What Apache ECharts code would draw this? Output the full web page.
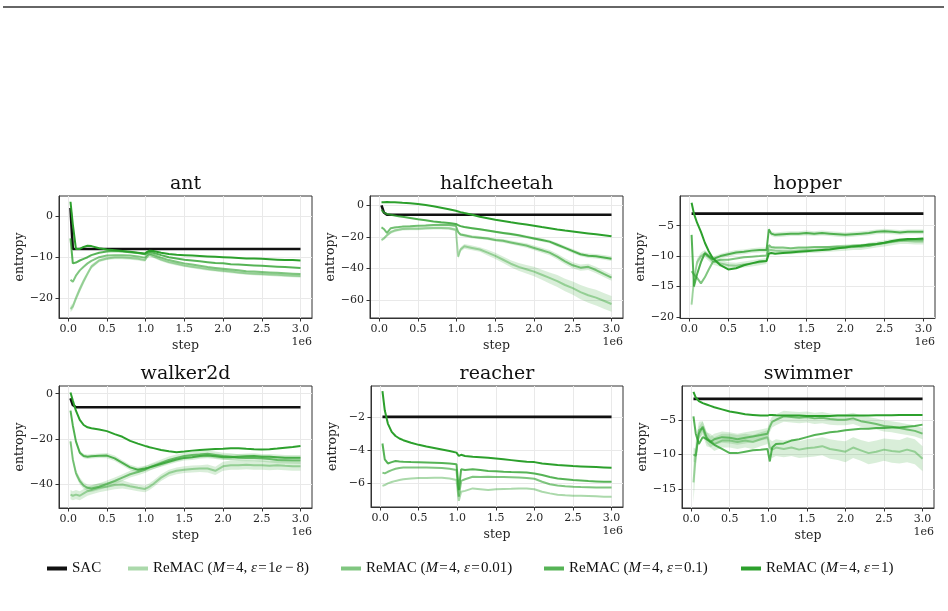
<!DOCTYPE html>
<html>
<head>
<meta charset="utf-8">
<script src="https://cdn.jsdelivr.net/npm/echarts@6/dist/echarts.min.js"></script>
<style>
  html, body { margin: 0; padding: 0; background: #fff; }
  #chart { width: 948px; height: 611px; }
</style>
</head>
<body>
<div id="chart"></div>
<script>
// training steps, in units of 1e6
const steps = [0.03, 0.06, 0.1, 0.15, 0.2, 0.25, 0.3, 0.4, 0.5, 0.6, 0.7, 0.8, 0.9, 0.99, 1.02, 1.05, 1.1, 1.2, 1.3, 1.4,
  1.5, 1.6, 1.7, 1.8, 1.9, 2.0, 2.1, 2.2, 2.3, 2.4, 2.5, 2.6, 2.7, 2.8, 2.9, 3.0];
const xTicks = [0, 0.5, 1, 1.5, 2, 2.5, 3];

const methods = ['SAC', 'ReMAC (M=4, ε=1e−8)', 'ReMAC (M=4, ε=0.01)', 'ReMAC (M=4, ε=0.1)', 'ReMAC (M=4, ε=1)'];
const legendLabels = [
  'SAC',
  '{n|ReMAC (}{i|M}{n|\u200a=\u200a4, }{i|ε}{n|\u200a=\u200a1}{i|e}{n|\u2009−\u20098)}',
  '{n|ReMAC (}{i|M}{n|\u200a=\u200a4, }{i|ε}{n|\u200a=\u200a0.01)}',
  '{n|ReMAC (}{i|M}{n|\u200a=\u200a4, }{i|ε}{n|\u200a=\u200a0.1)}',
  '{n|ReMAC (}{i|M}{n|\u200a=\u200a4, }{i|ε}{n|\u200a=\u200a1)}'
];

// ---- ant
const antSAC = [2, -8, -8, -8, -8, -8, -8, -8, -8, -8, -8, -8, -8, -8, -8, -8, -8, -8, -8, -8, -8, -8, -8, -8, -8, -8, -8, -8, -8, -8, -8, -8, -8, -8, -8, -8];
const antE8 = [-22.6, -22.0, -20.0, -17.8, -15.8, -14.0, -12.3, -10.8, -10.3, -10.1, -10.1, -10.2, -10.4, -10.7, -9.9, -9.4, -9.8, -10.6, -11.2, -11.6,
  -12.0, -12.3, -12.6, -12.9, -13.1, -13.3, -13.5, -13.7, -13.9, -14.0, -14.1, -14.2, -14.3, -14.4, -14.5, -14.6];
const antE2 = [-15.5, -16.0, -14.5, -13.2, -12.3, -11.5, -10.9, -10.0, -9.6, -9.5, -9.5, -9.6, -9.8, -10.1, -9.5, -9.1, -9.4, -10.1, -10.7, -11.1,
  -11.5, -11.8, -12.1, -12.4, -12.6, -12.8, -13.0, -13.2, -13.4, -13.5, -13.6, -13.7, -13.8, -13.9, -14.0, -14.1];
const antE1 = [-5.4, -11.5, -11.3, -10.8, -10.4, -10.0, -9.5, -8.9, -8.6, -8.5, -8.6, -8.8, -9.0, -9.3, -9.0, -8.7, -8.9, -9.5, -10.0, -10.3,
  -10.6, -10.8, -11.0, -11.2, -11.4, -11.5, -11.7, -11.8, -11.9, -12.0, -12.1, -12.2, -12.3, -12.4, -12.5, -12.6];
const antE0 = [3.5, -2, -8.0, -8.0, -7.5, -7.2, -7.3, -7.8, -8.1, -8.3, -8.5, -8.7, -8.9, -9.1, -8.7, -8.4, -8.5, -8.9, -9.2, -9.4,
  -9.5, -9.6, -9.7, -9.8, -9.9, -10.0, -10.1, -10.2, -10.3, -10.3, -10.4, -10.5, -10.6, -10.7, -10.7, -10.8];
const antBandE8 = [0.8, 0.8, 0.8, 0.8, 0.7, 0.6, 0.5, 0.4, 0.4, 0.4, 0.4, 0.4, 0.4, 0.4, 0.4, 0.4, 0.4, 0.4, 0.4, 0.4,
  0.4, 0.4, 0.4, 0.4, 0.4, 0.4, 0.4, 0.4, 0.4, 0.4, 0.4, 0.4, 0.4, 0.4, 0.4, 0.4];

// ---- halfcheetah
const hcSAC = [0, -4.5, -6, -6, -6, -6, -6, -6, -6, -6, -6, -6, -6, -6, -6, -6, -6, -6, -6, -6, -6, -6, -6, -6, -6, -6, -6, -6, -6, -6, -6, -6, -6, -6, -6, -6];
const hcE8 = [-22.0, -21.0, -19.0, -17.0, -16.0, -15.5, -15.0, -14.8, -14.8, -14.5, -14.3, -14.3, -14.5, -15.5, -32.5, -28.0, -26.0, -27.0, -28.0, -30.0,
  -32.0, -34.5, -37.0, -39.0, -40.5, -42.0, -44.0, -46.0, -48.0, -50.5, -52.5, -55.0, -57.0, -58.5, -60.5, -62.5];
const hcE2 = [-14.0, -15.0, -17.5, -14.5, -14.0, -13.8, -13.5, -13.3, -13.0, -12.8, -12.5, -12.3, -12.5, -13.0, -17.0, -18.5, -19.0, -20.0, -20.5, -21.0,
  -22.0, -22.5, -23.5, -24.5, -25.5, -27.0, -28.5, -30.0, -32.5, -35.5, -38.0, -39.5, -39.0, -41.0, -43.5, -45.8];
const hcE1 = [-3.0, -4.5, -5.5, -6.0, -6.5, -7.0, -7.3, -8.0, -8.8, -9.5, -10.2, -10.8, -11.2, -11.8, -12.6, -13.2, -13.8, -14.5, -15.2, -16.0,
  -16.8, -17.5, -18.2, -19.0, -20.0, -21.0, -22.0, -23.0, -25.0, -27.0, -29.0, -31.0, -32.0, -32.3, -33.0, -33.8];
const hcE0 = [2.0, 2.0, 2.1, 2.0, 1.9, 1.8, 1.6, 1.3, 0.8, 0.2, -0.6, -1.5, -2.5, -3.5, -3.9, -4.3, -4.9, -6.0, -7.2, -8.2,
  -9.2, -10.0, -10.8, -11.5, -12.2, -13.0, -13.8, -14.5, -15.3, -16.0, -16.6, -17.2, -17.8, -18.4, -19.0, -19.6];
const hcBandE8 = [1, 1, 1, 1, 1, 1, 1, 1, 1, 1, 1, 1, 1, 1, 1.5, 1.5, 1.5, 1.5, 1.5, 1.8,
  2.0, 2.0, 2.2, 2.5, 2.7, 3.0, 3.2, 3.5, 3.8, 4.0, 4.2, 4.5, 4.8, 5.0, 5.0, 5.0];
const hcBandE2 = [0.6, 0.6, 0.6, 0.6, 0.6, 0.6, 0.6, 0.6, 0.6, 0.6, 0.6, 0.6, 0.6, 0.8, 1.0, 1.0, 1.0, 1.0, 1.0, 1.0,
  1.0, 1.2, 1.2, 1.3, 1.4, 1.5, 1.6, 1.7, 1.8, 1.9, 2.0, 2.0, 2.0, 2.0, 2.0, 2.0];
const hcBandE1 = [0.4, 0.4, 0.4, 0.4, 0.4, 0.4, 0.4, 0.4, 0.4, 0.4, 0.4, 0.4, 0.4, 0.5, 0.6, 0.6, 0.6, 0.6, 0.7, 0.7,
  0.8, 0.8, 0.9, 0.9, 1.0, 1.0, 1.1, 1.1, 1.2, 1.2, 1.3, 1.3, 1.4, 1.4, 1.5, 1.5];

// ---- hopper
const hopSAC = [-3, -3, -3, -3, -3, -3, -3, -3, -3, -3, -3, -3, -3, -3, -3, -3, -3, -3, -3, -3, -3, -3, -3, -3, -3, -3, -3, -3, -3, -3, -3, -3, -3, -3, -3, -3];
const hopE8 = [-18.0, -14.0, -11.0, -10.0, -9.6, -10.2, -10.8, -11.2, -11.5, -11.6, -11.4, -11.2, -11.0, -10.8, -9.0, -9.0, -9.1, -9.2, -9.2, -9.1,
  -9.0, -9.0, -8.9, -8.8, -8.7, -8.6, -8.5, -8.5, -8.3, -8.1, -7.9, -7.7, -7.5, -7.5, -7.6, -7.6];
const hopE2 = [-12.5, -13.0, -13.6, -14.5, -13.5, -12.2, -11.0, -10.6, -10.6, -10.4, -10.2, -10.1, -10.0, -9.9, -8.2, -8.5, -8.6, -8.6, -8.7, -8.6,
  -8.6, -8.5, -8.5, -8.5, -8.4, -8.4, -8.3, -8.2, -8.3, -8.0, -7.8, -7.6, -7.4, -7.3, -7.3, -7.3];
const hopE1 = [-6.5, -15.0, -13.0, -11.0, -9.5, -10.0, -10.5, -10.0, -9.7, -9.4, -9.3, -9.1, -9.0, -9.0, -5.6, -6.3, -6.5, -6.4, -6.3, -6.3,
  -6.2, -6.3, -6.2, -6.3, -6.4, -6.5, -6.4, -6.3, -6.2, -6.0, -5.9, -6.0, -6.1, -6.0, -6.0, -6.0];
const hopE0 = [-1.2, -3.0, -4.5, -6.0, -7.8, -9.2, -10.3, -11.5, -12.2, -12.0, -11.5, -11.2, -10.9, -10.8, -9.6, -9.5, -9.6, -9.5, -9.4, -9.3,
  -9.2, -9.1, -9.0, -8.9, -8.7, -8.6, -8.4, -8.3, -8.1, -8.0, -7.8, -7.5, -7.3, -7.2, -7.2, -7.1];
const hopBandE8 = [0.6, 0.6, 0.6, 0.6, 0.6, 0.6, 0.6, 0.6, 0.5, 0.5, 0.5, 0.5, 0.5, 0.5, 0.5, 0.5, 0.5, 0.5, 0.5, 0.5,
  0.5, 0.5, 0.5, 0.5, 0.5, 0.5, 0.5, 0.5, 0.5, 0.5, 0.5, 0.5, 0.5, 0.5, 0.5, 0.5];
const hopBandE1 = [0.4, 0.4, 0.4, 0.4, 0.4, 0.4, 0.4, 0.4, 0.4, 0.4, 0.4, 0.4, 0.4, 0.4, 0.4, 0.4, 0.4, 0.4, 0.4, 0.4,
  0.4, 0.4, 0.4, 0.4, 0.4, 0.4, 0.4, 0.4, 0.4, 0.4, 0.4, 0.4, 0.4, 0.4, 0.4, 0.4];

// ---- walker2d
const wkSAC = [-2, -5, -6, -6, -6, -6, -6, -6, -6, -6, -6, -6, -6, -6, -6, -6, -6, -6, -6, -6, -6, -6, -6, -6, -6, -6, -6, -6, -6, -6, -6, -6, -6, -6, -6, -6];
const wkE8 = [-44.5, -45.0, -44.5, -45.0, -44.0, -43.0, -42.5, -41.5, -41.0, -40.3, -40.0, -40.8, -41.5, -42.0, -41.5, -41.0, -39.8, -37.0, -35.0, -34.0,
  -33.5, -33.2, -33.0, -33.0, -34.0, -32.0, -31.5, -31.5, -31.3, -31.5, -31.5, -31.8, -31.5, -31.8, -32.0, -32.0];
const wkE2 = [-21.0, -29.0, -35.0, -38.5, -40.5, -41.5, -41.8, -41.0, -39.8, -38.5, -37.0, -35.5, -34.5, -33.5, -33.0, -32.5, -31.8, -30.5, -29.2, -28.3,
  -27.5, -27.0, -26.8, -26.5, -27.0, -27.5, -27.8, -28.2, -28.3, -28.3, -28.5, -28.8, -29.2, -29.3, -29.4, -29.5];
const wkE1 = [-7.5, -14.0, -21.0, -26.0, -27.5, -27.8, -27.6, -27.4, -27.3, -28.5, -30.5, -32.5, -33.5, -33.0, -32.8, -32.5, -32.0, -31.0, -30.0, -29.0,
  -28.3, -28.0, -27.5, -27.3, -27.6, -28.0, -28.0, -27.8, -27.6, -27.5, -27.8, -27.8, -28.0, -28.2, -28.2, -28.2];
const wkE0 = [0.5, -3.0, -7.5, -11.5, -13.8, -14.8, -15.2, -15.8, -16.5, -17.8, -19.0, -20.8, -22.0, -23.0, -23.3, -23.6, -24.0, -24.8, -25.4, -25.8,
  -25.5, -25.1, -24.8, -24.6, -24.4, -24.3, -24.1, -24.0, -24.3, -24.5, -24.6, -24.5, -24.2, -23.8, -23.5, -23.1];
const wkBandE8 = [2.0, 2.0, 2.0, 2.0, 2.0, 2.0, 2.0, 2.0, 1.8, 1.8, 1.8, 1.5, 1.5, 1.5, 1.5, 1.5, 1.5, 1.5, 1.5, 1.5,
  1.5, 1.5, 1.5, 1.8, 1.8, 2.0, 2.0, 2.0, 2.0, 2.0, 2.0, 2.0, 2.0, 2.0, 2.0, 2.0];
const wkBandE2 = [1.5, 1.5, 1.5, 1.5, 1.5, 1.5, 1.5, 1.5, 1.5, 1.5, 1.5, 1.5, 1.5, 1.5, 1.5, 1.5, 1.5, 1.5, 1.5, 1.5,
  1.5, 1.5, 1.5, 1.5, 1.5, 1.5, 1.5, 1.5, 1.5, 1.5, 1.5, 1.5, 1.5, 1.5, 1.5, 1.5];
const wkBandE1 = [1.0, 1.0, 1.0, 1.0, 1.0, 1.0, 1.0, 1.0, 1.2, 1.2, 1.2, 1.2, 1.2, 1.2, 1.2, 1.2, 1.2, 1.2, 1.2, 1.2,
  1.2, 1.2, 1.2, 1.2, 1.2, 1.2, 1.2, 1.2, 1.2, 1.2, 1.2, 1.2, 1.2, 1.2, 1.2, 1.2];

// ---- reacher
const rcSAC = [-2, -2, -2, -2, -2, -2, -2, -2, -2, -2, -2, -2, -2, -2, -2, -2, -2, -2, -2, -2, -2, -2, -2, -2, -2, -2, -2, -2, -2, -2, -2, -2, -2, -2, -2, -2];
const rcE8 = [-6.15, -6.1, -6.0, -5.92, -5.85, -5.8, -5.75, -5.7, -5.68, -5.67, -5.66, -5.66, -5.7, -5.8, -7.05, -6.5, -6.45, -6.3, -6.35, -6.4,
  -6.35, -6.33, -6.32, -6.3, -6.3, -6.35, -6.5, -6.6, -6.68, -6.72, -6.74, -6.75, -6.76, -6.78, -6.8, -6.8];
const rcE2 = [-5.35, -5.4, -5.3, -5.2, -5.12, -5.07, -5.05, -5.04, -5.04, -5.05, -5.06, -5.08, -5.12, -5.2, -6.8, -5.85, -5.75, -5.6, -5.62, -5.6,
  -5.62, -5.62, -5.63, -5.65, -5.68, -5.72, -5.9, -6.05, -6.12, -6.17, -6.2, -6.22, -6.23, -6.24, -6.25, -6.25];
const rcE1 = [-3.6, -4.55, -4.8, -4.72, -4.65, -4.68, -4.7, -4.72, -4.73, -4.74, -4.76, -4.78, -4.8, -4.85, -6.4, -5.15, -5.2, -5.15, -5.2, -5.25,
  -5.27, -5.3, -5.32, -5.33, -5.35, -5.4, -5.5, -5.62, -5.7, -5.75, -5.8, -5.83, -5.86, -5.88, -5.9, -5.9];
const rcE0 = [-0.45, -1.6, -2.4, -2.9, -3.15, -3.3, -3.4, -3.55, -3.68, -3.78, -3.87, -3.96, -4.05, -4.15, -4.35, -4.28, -4.35, -4.4, -4.42, -4.45,
  -4.5, -4.55, -4.6, -4.65, -4.7, -4.72, -4.8, -4.85, -4.9, -4.93, -4.96, -4.98, -5.0, -5.02, -5.04, -5.06];

// ---- swimmer
const swSAC = [-2, -2, -2, -2, -2, -2, -2, -2, -2, -2, -2, -2, -2, -2, -2, -2, -2, -2, -2, -2, -2, -2, -2, -2, -2, -2, -2, -2, -2, -2, -2, -2, -2, -2, -2, -2];
const swE8 = [-14.0, -10.0, -6.5, -6.2, -7.8, -8.0, -8.5, -8.0, -8.0, -8.2, -8.0, -8.2, -7.8, -7.5, -9.0, -9.3, -9.0, -9.2, -9.0, -9.3,
  -9.1, -9.0, -8.8, -9.2, -9.4, -9.6, -9.0, -9.4, -9.8, -9.6, -9.3, -9.5, -9.6, -9.3, -9.6, -10.6];
const swE2 = [-10.0, -10.2, -7.0, -6.0, -7.5, -8.2, -7.8, -7.5, -7.6, -7.8, -7.6, -7.4, -7.2, -7.0, -6.0, -5.3, -5.0, -4.5, -4.6, -4.7,
  -4.6, -4.8, -4.7, -4.9, -5.0, -5.0, -4.8, -5.2, -5.4, -5.6, -5.9, -6.0, -6.2, -6.4, -6.6, -7.0];
const swE1 = [-4.5, -7.0, -8.5, -7.5, -7.8, -8.2, -8.6, -9.2, -9.8, -9.8, -9.6, -9.4, -9.3, -9.2, -11.0, -9.0, -8.5, -8.4, -8.0, -7.8,
  -7.5, -7.2, -7.0, -6.8, -6.7, -6.5, -6.4, -6.3, -6.3, -6.2, -6.2, -6.1, -6.1, -6.0, -5.9, -5.7];
const swE0 = [-1.0, -1.8, -2.3, -2.6, -2.8, -3.0, -3.2, -3.5, -3.8, -4.0, -4.2, -4.3, -4.4, -4.4, -4.3, -4.3, -4.35, -4.4, -4.4, -4.4,
  -4.45, -4.45, -4.45, -4.45, -4.4, -4.4, -4.4, -4.4, -4.4, -4.35, -4.35, -4.35, -4.3, -4.3, -4.3, -4.3];
const swBandE8 = [3.0, 2.0, 1.2, 1.0, 1.0, 1.0, 1.0, 1.0, 1.0, 1.0, 1.0, 1.0, 1.0, 1.0, 1.2, 1.2, 1.2, 1.2, 1.2, 1.2,
  1.3, 1.3, 1.3, 1.4, 1.4, 1.5, 1.5, 1.5, 1.6, 1.6, 1.6, 1.7, 1.7, 1.8, 1.8, 1.8];
const swBandE2 = [1.0, 1.0, 1.0, 0.8, 0.8, 0.8, 0.8, 0.8, 0.8, 0.8, 0.8, 0.8, 0.8, 0.8, 0.8, 0.8, 0.8, 0.8, 0.8, 0.8,
  0.8, 0.8, 0.8, 0.8, 0.8, 0.8, 0.8, 0.8, 0.8, 0.8, 0.8, 0.8, 0.8, 0.8, 0.8, 0.8];

const panels = [
  { title: 'ant', grid: { left: 59, top: 196, width: 253, height: 122 }, yMin: -24.8, yMax: 4.9, yTicks: [-20, -10, 0],
    lines: [antSAC, antE8, antE2, antE1, antE0], bands: [null, antBandE8, null, null, null] },
  { title: 'halfcheetah', grid: { left: 370, top: 196, width: 253, height: 122 }, yMin: -71.4, yMax: 5.9, yTicks: [-60, -40, -20, 0],
    lines: [hcSAC, hcE8, hcE2, hcE1, hcE0], bands: [null, hcBandE8, hcBandE2, hcBandE1, null] },
  { title: 'hopper', grid: { left: 680, top: 196, width: 255, height: 122 }, yMin: -20.2, yMax: -0.1, yTicks: [-20, -15, -10, -5],
    lines: [hopSAC, hopE8, hopE2, hopE1, hopE0], bands: [null, hopBandE8, null, hopBandE1, null] },
  { title: 'walker2d', grid: { left: 59, top: 386, width: 253, height: 122 }, yMin: -50.4, yMax: 3.4, yTicks: [-40, -20, 0],
    lines: [wkSAC, wkE8, wkE2, wkE1, wkE0], bands: [null, wkBandE8, wkBandE2, wkBandE1, null] },
  { title: 'reacher', grid: { left: 371, top: 386, width: 252, height: 121 }, yMin: -7.42, yMax: -0.14, yTicks: [-6, -4, -2],
    lines: [rcSAC, rcE8, rcE2, rcE1, rcE0], bands: [null, null, null, null, null] },
  { title: 'swimmer', grid: { left: 682, top: 386, width: 252, height: 122 }, yMin: -17.7, yMax: -0.14, yTicks: [-15, -10, -5],
    lines: [swSAC, swE8, swE2, swE1, swE0], bands: [null, swBandE8, swBandE2, null, null] }
];

const colors = ['#111111', 'rgba(44,160,44,0.4)', 'rgba(44,160,44,0.6)', 'rgba(44,160,44,0.8)', 'rgba(44,160,44,1)'];
const serif = '"DejaVu Serif", serif';
const ink = '#262626';

// shaded spread around a mean line, drawn as one polygon through the axis scales
function bandSeries(k, mean, half) {
  const lo = mean.map((v, i) => v - half[i]);
  const hi = mean.map((v, i) => v + half[i]);
  return {
    type: 'custom', xAxisIndex: k, yAxisIndex: k, silent: true, z: 1, clip: true,
    data: steps.map((s, i) => [s, lo[i], hi[i]]),
    encode: { x: 0, y: [1, 2] },
    renderItem: (params, api) => {
      if (params.dataIndex !== 0) return null;
      const pts = [];
      for (let i = 0; i < steps.length; i++) pts.push(api.coord([steps[i], hi[i]]));
      for (let i = steps.length - 1; i >= 0; i--) pts.push(api.coord([steps[i], lo[i]]));
      return { type: 'polygon', shape: { points: pts }, style: { fill: 'rgba(44,160,44,0.18)', stroke: null } };
    }
  };
}

const grid = [], xAxis = [], yAxis = [], series = [], title = [], graphic = [];

panels.forEach((p, k) => {
  grid.push(Object.assign({ show: true, borderColor: '#333', borderWidth: 1, containLabel: false }, p.grid));
  xAxis.push({
    type: 'value', gridIndex: k, min: -0.1185, max: 3.1485,
    name: 'step', nameLocation: 'middle', nameGap: 21,
    nameTextStyle: { fontFamily: serif, fontSize: 12.5, color: ink },
    axisLine: { show: true, onZero: false, lineStyle: { color: '#333', width: 1 } },
    axisTick: { show: true, customValues: xTicks, length: 3.5, lineStyle: { color: '#333' } },
    axisLabel: { customValues: xTicks, formatter: v => v.toFixed(1), margin: 6, fontFamily: serif, fontSize: 11, color: ink },
    splitLine: { show: true, lineStyle: { color: '#e9e9e9', width: 1 } }
  });
  yAxis.push({
    type: 'value', gridIndex: k, min: p.yMin, max: p.yMax,
    name: 'entropy', nameLocation: 'middle', nameGap: 32,
    nameTextStyle: { fontFamily: serif, fontSize: 12.5, color: ink },
    axisLine: { show: true, onZero: false, lineStyle: { color: '#333', width: 1 } },
    axisTick: { show: true, customValues: p.yTicks, length: 3.5, lineStyle: { color: '#333' } },
    axisLabel: { customValues: p.yTicks, formatter: v => String(v).replace('-', '\u2212'), margin: 6, fontFamily: serif, fontSize: 11, color: ink },
    splitLine: { show: true, lineStyle: { color: '#e9e9e9', width: 1 } }
  });
  title.push({
    text: p.title, left: p.grid.left + p.grid.width / 2, textAlign: 'center', top: p.grid.top - 21, padding: 0,
    textStyle: { fontFamily: serif, fontSize: 19, fontWeight: 'normal', color: '#111' }
  });
  graphic.push({
    type: 'text', x: p.grid.left + p.grid.width, y: p.grid.top + p.grid.height + 24,
    style: { text: '1e6', font: '11px "DejaVu Serif"', fill: ink, textAlign: 'right', textVerticalAlign: 'middle', align: 'right', verticalAlign: 'middle' }
  });

  p.bands.forEach((b, m) => {
    if (b) series.push(bandSeries(k, p.lines[m], b));
  });

  p.lines.forEach((vals, m) => {
    series.push({
      name: methods[m], type: 'line', xAxisIndex: k, yAxisIndex: k,
      symbol: 'none', z: 2 + m, color: colors[m],
      lineStyle: { color: colors[m], width: m === 0 ? 2.6 : 2 },
      data: steps.map((s, i) => [s, vals[i]])
    });
  });
});

// top rule of the page
graphic.push({ type: 'line', shape: { x1: 3, y1: 7, x2: 944, y2: 7 }, style: { stroke: '#333', lineWidth: 1.5 } });

const legendLeft = [47, 128, 341, 544, 741];
const legend = methods.map((m, i) => ({
  data: [m], left: legendLeft[i], top: 561, padding: 0, icon: 'rect', itemWidth: 20, itemHeight: 4, itemGap: 5,
  selectedMode: false,
  formatter: () => legendLabels[i],
  textStyle: {
    fontFamily: '"Liberation Serif", serif', fontSize: 15, color: '#111',
    rich: {
      n: { fontFamily: '"Liberation Serif", serif', fontSize: 15, color: '#111' },
      i: { fontFamily: '"Liberation Serif", serif', fontSize: 15, fontStyle: 'italic', color: '#111' }
    }
  }
}));

const chart = echarts.init(document.getElementById('chart'));
chart.setOption({
  animation: false,
  backgroundColor: '#fff',
  title, grid, xAxis, yAxis, legend, graphic, series
});
</script>
</body>
</html>
